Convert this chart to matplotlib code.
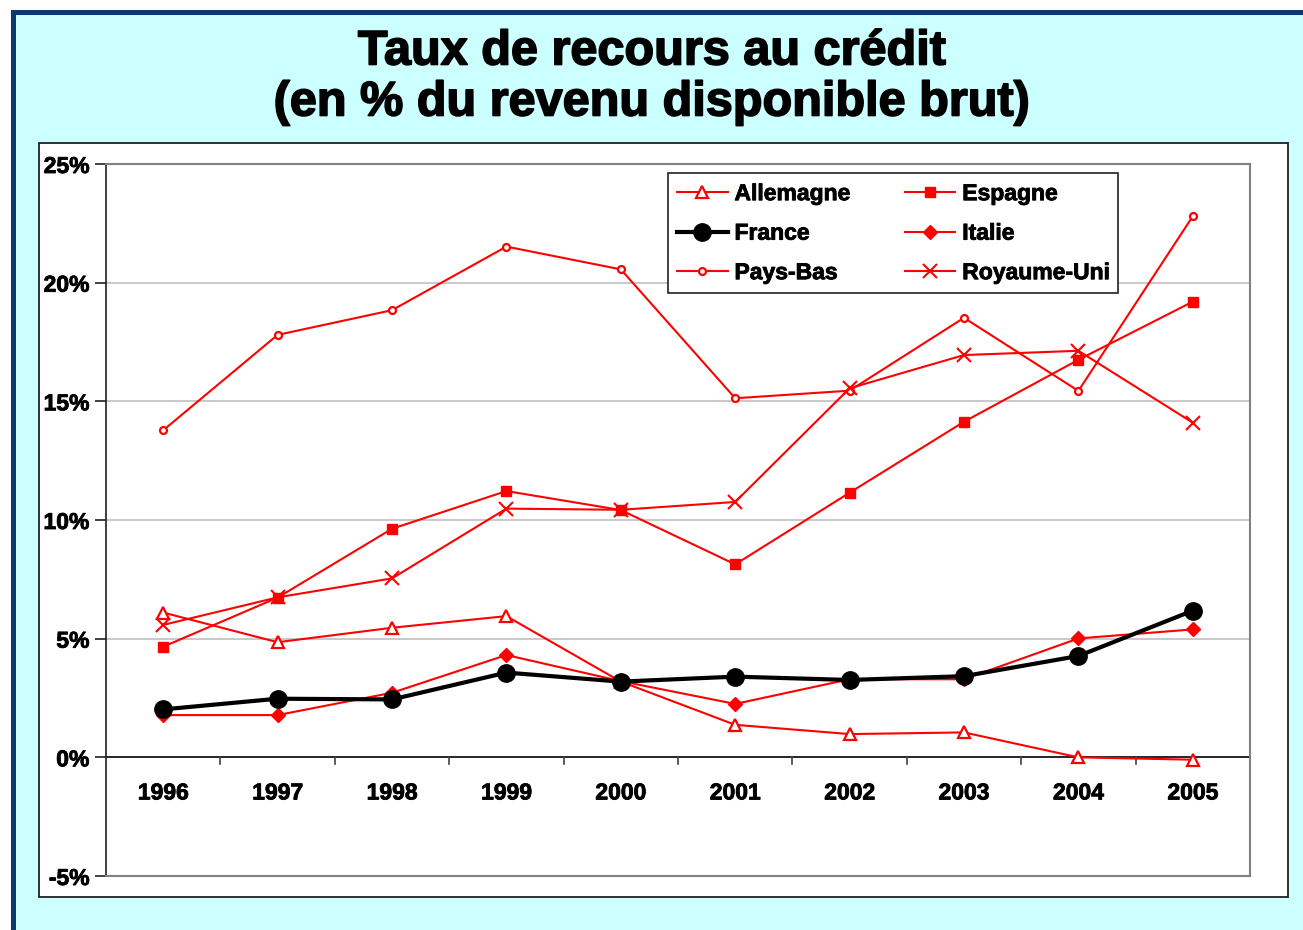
import matplotlib
matplotlib.use("Agg")
import matplotlib.pyplot as plt
from matplotlib.patches import Rectangle
from matplotlib.ticker import FixedLocator, FuncFormatter
import matplotlib.patheffects as pe

plt.rcParams['font.family'] = ['Liberation Sans', 'DejaVu Sans']

years = ["1996", "1997", "1998", "1999", "2000", "2001", "2002", "2003", "2004", "2005"]
allemagne = [6.1, 4.85, 5.46, 5.95, 3.19, 1.37, 0.98, 1.05, 0.0, -0.1]
espagne = [4.66, 6.73, 9.63, 11.22, 10.42, 8.13, 11.15, 14.14, 16.75, 19.2]
france = [2.02, 2.47, 2.44, 3.57, 3.19, 3.4, 3.26, 3.42, 4.27, 6.18]
italie = [1.78, 1.78, 2.72, 4.31, 3.21, 2.25, 3.29, 3.29, 5.01, 5.39]
pays_bas = [13.78, 17.8, 18.84, 21.52, 20.56, 15.13, 15.45, 18.52, 15.44, 22.8]
royaume_uni = [5.58, 6.74, 7.54, 10.48, 10.43, 10.76, 15.55, 16.95, 17.13, 14.1]
yticks = [-5, 0, 5, 10, 15, 20, 25]

W, H = 1303, 930
fig = plt.figure(figsize=(W / 100, H / 100), dpi=100)
fig.patch.set_facecolor("white")

def fx(px):
    return px / W

def fy(py):
    return 1 - py / H

# outer cyan panel with dark blue border
fig.patches.append(Rectangle((fx(13.5), fy(1000)), fx(1400), fy(12.5) - fy(1000),
                             transform=fig.transFigure, facecolor="#CCFFFF",
                             edgecolor="#0D3A6E", linewidth=3.6, zorder=0))
# white chart box
fig.patches.append(Rectangle((fx(38.5), fy(897)), fx(1288) - fx(38.5), fy(143.5) - fy(897),
                             transform=fig.transFigure, facecolor="white",
                             edgecolor="#202020", linewidth=1.3, zorder=1))

heavy = [pe.withStroke(linewidth=1.2, foreground="black")]
fig.text(0.5, fy(52), "Taux de recours au crédit", ha="center", va="center",
         fontsize=35, fontweight="bold", path_effects=heavy)
fig.text(0.5, fy(103), "(en % du revenu disponible brut)", ha="center", va="center",
         fontsize=35, fontweight="bold", path_effects=heavy)

ax = fig.add_axes([fx(106), fy(876), fx(1250) - fx(106), fy(164) - fy(876)])
ax.set_zorder(2)
ax.set_facecolor("white")
x = list(range(len(years)))
red = "#FF0000"

h_all, = ax.plot(x, allemagne, color=red, lw=1.5, marker="^", ms=9, mfc="white",
                 mec=red, mew=1.6, label="Allemagne", zorder=3)
h_esp, = ax.plot(x, espagne, color=red, lw=1.5, marker="s", ms=7, mfc=red,
                 mec=red, label="Espagne", zorder=3)
h_ita, = ax.plot(x, italie, color=red, lw=1.5, marker="D", ms=7, mfc=red,
                 mec=red, label="Italie", zorder=3)
h_pb, = ax.plot(x, pays_bas, color=red, lw=1.5, marker="o", ms=5, mfc="white",
                mec=red, mew=1.6, label="Pays-Bas", zorder=3)
h_ru, = ax.plot(x, royaume_uni, color=red, lw=1.5, marker="x", ms=10, mec=red,
                mew=1.5, label="Royaume-Uni", zorder=3)
h_fr, = ax.plot(x, france, color="black", lw=3, marker="o", ms=12.5, mfc="black",
                mec="black", label="France", zorder=4)

ax.set_xlim(-0.5, len(years) - 0.5)
ax.set_ylim(-5, 25)
ax.yaxis.set_major_locator(FixedLocator(yticks))
ax.yaxis.set_major_formatter(FuncFormatter(lambda v, p: f"{int(v)}%"))
for v in yticks[2:-1]:
    ax.axhline(v, color="#C0C0C0", lw=1.2, zorder=1)
ax.axhline(0, color="black", lw=1.2, zorder=2)

for s in ["top", "right", "bottom"]:
    ax.spines[s].set_color("#808080")
    ax.spines[s].set_linewidth(1.5)
ax.spines["left"].set_color("#202020")
ax.spines["left"].set_linewidth(1.2)

lab_fx = [pe.withStroke(linewidth=0.6, foreground="black")]
ax.tick_params(axis="y", direction="out", length=8, width=1.2, color="#202020",
               labelsize=16.5, pad=4)
for lab in ax.get_yticklabels():
    lab.set_fontweight("bold")
    lab.set_path_effects(lab_fx)

ax.set_xticks([])
# category boundary ticks on the zero line
for b in range(1, len(years)):
    ax.plot([b - 0.5, b - 0.5], [0, -0.3], color="#404040", lw=1.2, zorder=2,
            clip_on=False)
for i, yr in enumerate(years):
    ax.text(i, -1.5, yr, ha="center", va="center", fontsize=16.5, fontweight="bold",
            path_effects=lab_fx)

handles = [h_all, h_fr, h_pb, h_esp, h_ita, h_ru]
leg = ax.legend(handles=handles, labels=[h.get_label() for h in handles], ncol=2,
                loc="upper left", bbox_to_anchor=(fx(668), fy(173)),
                bbox_transform=fig.transFigure, borderaxespad=0, frameon=True,
                fancybox=False, edgecolor="#202020", framealpha=1,
                prop={"weight": "bold", "size": 16.5}, handlelength=2.2,
                handletextpad=0.3, columnspacing=2.4, labelspacing=0.72,
                borderpad=0.4)
leg.get_frame().set_linewidth(1.2)
leg.set_zorder(5)
for t in leg.get_texts():
    t.set_path_effects(lab_fx)

fig.savefig("out.png", dpi=100, facecolor=fig.get_facecolor())
